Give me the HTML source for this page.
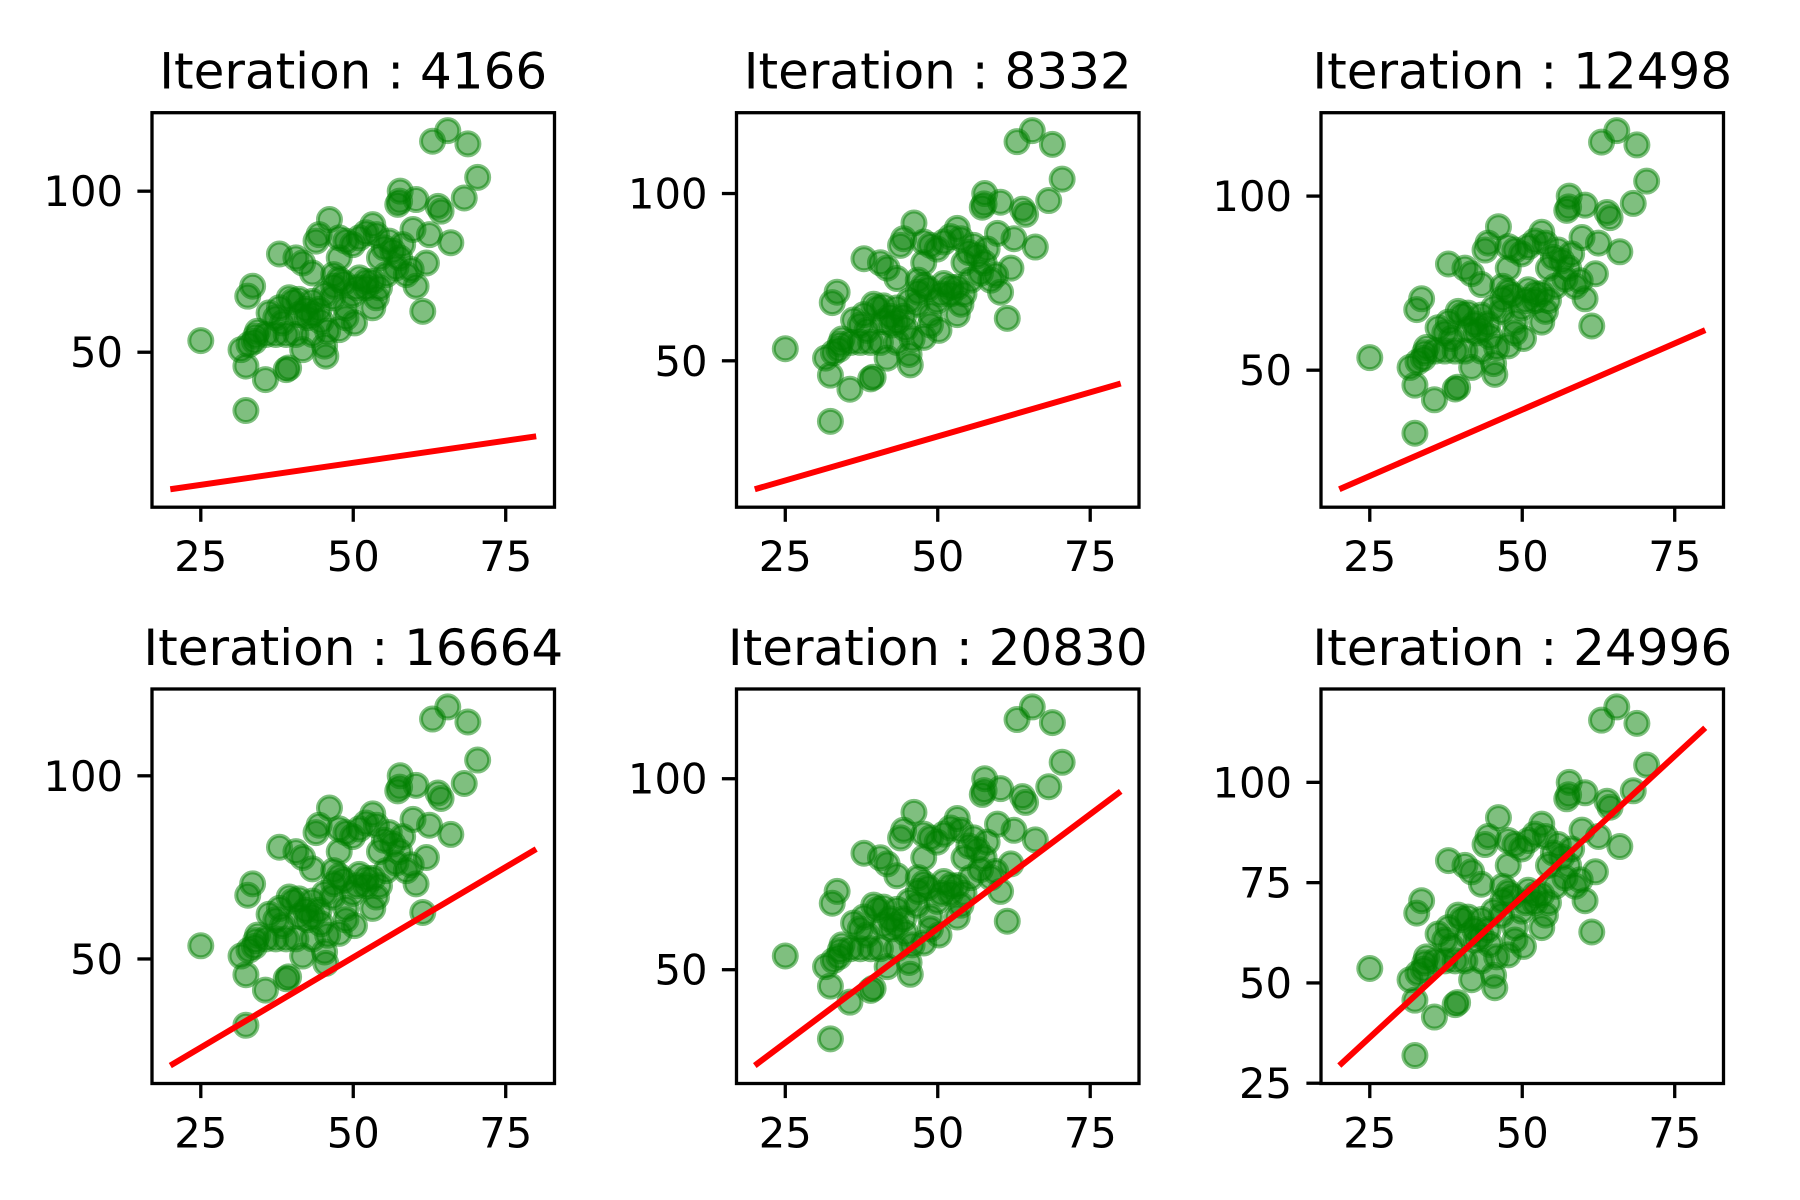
<!DOCTYPE html>
<html><head><meta charset="utf-8">
<style>
html,body{margin:0;padding:0;background:#fff;}
svg{display:block;}
text{font-family:"DejaVu Sans","Liberation Sans",sans-serif;fill:#000;}
</style></head>
<body>
<svg id="fig" width="1800" height="1200" viewBox="0 0 1800 1200" xmlns="http://www.w3.org/2000/svg"></svg>
<script>
// Shared scatter data
const scatterX = [25,63.0,65.5,68.8,70.4,68.2,32.4,35.6,39.4,39.0,61.4,66.0,60.3,62.0,62.5,64.4,63.9,60.3,57.6,57.7,57.3,59.8,59.5,58.7,37.9,33.5,32.7,31.6,32.4,33.8,34.3,36.2,37.3,38.4,40.1,41.1,40.6,41.7,43.3,44.4,45.5,45.3,45.8,47.7,50.2,48.8,53.2,53.8,50.6,48.4,46.8,43.3,41.7,40.6,44.4,43.9,46.1,48.8,49.9,52.1,53.2,53.8,55.1,56.5,57.6,57.0,55.4,53.2,52.1,51.0,47.7,46.6,43.3,42.2,44.7,43.3,39.0,37.3,35.7,34.0,32.9,37.9,39.5,41.1,42.5,48.8,49.9,52.1,54.3,55.9,58.1,51.0,47.7,46.8,45.3,54.3,47.7];
const scatterY = [53.6,115.5,118.8,114.7,104.3,97.9,31.9,41.5,45.1,44.6,62.7,84.0,70.5,77.7,86.5,93.8,95.3,97.4,96.9,100,95.9,88.1,75.7,74.1,80.5,70.5,67.4,50.8,45.7,53.4,56.5,62.2,60.7,59.1,65.8,66.4,55.5,50.8,61.7,63.3,48.8,51.9,56.5,57.0,59.1,60.7,63.8,66.9,70.0,71.5,74.1,74.6,77.7,79.3,86.5,84.5,91.2,84.5,83.4,87.1,89.6,86.5,82.4,81.4,79.3,76.2,74.1,72.0,70.0,73.1,72.6,66.9,65.8,63.3,59.6,55.5,55.5,55.5,55.5,55.0,52.4,63.8,66.9,61.7,60.7,63.8,67.9,72.0,79.3,84.5,83.4,85.5,79.3,70.5,67.9,70.0,85.5];
// Per-panel data
const iterations = [4166,8332,12498,16664,20830,24996];
const lineX = [20,80];
const lineStartY = [7.45,11.6,15.8,20.9,24.9,29.4];
const lineEndY = [23.9,43.2,61.5,80.0,96.7,113.6];
const xTicks = [25,50,75];
const yTicksByPanel = [[50,100],[50,100],[50,100],[50,100],[50,100],[25,50,75,100]];

const NS="http://www.w3.org/2000/svg";
const svg=document.getElementById('fig');
function mk(tag,attrs,parent){const e=document.createElementNS(NS,tag);for(const k in attrs)e.setAttribute(k,attrs[k]);(parent||svg).appendChild(e);return e;}

const colL=[152,736.5,1321], colW=402.5;
const rowT=[112.7,689], rowH=394.5;

iterations.forEach((it,p)=>{
  const L=colL[p%3], T=rowT[Math.floor(p/3)], R=L+colW, B=T+rowH;
  const g=mk('g',{});
  
  
  // domains
  const xs=scatterX.concat(lineX), ys=scatterY.concat([lineStartY[p],lineEndY[p]]);
  const xmin=Math.min(...xs),xmax=Math.max(...xs),ymin=Math.min(...ys),ymax=Math.max(...ys);
  const xr=xmax-xmin, yr=ymax-ymin;
  const x0=xmin-0.05*xr,x1=xmax+0.05*xr,y0=ymin-0.05*yr,y1=ymax+0.05*yr;
  const sx=v=>L+(v-x0)/(x1-x0)*colW;
  const sy=v=>B-(v-y0)/(y1-y0)*rowH;
  // points
  const pg=mk('g',{},g);
  
  
  scatterX.forEach((xv,i)=>{
    const c=mk('circle',{cx:sx(xv),cy:sy(scatterY[i]),r:11.5,fill:'#008000','fill-opacity':0.5,stroke:'#008000','stroke-opacity':0.5,'stroke-width':4},pg);
    
    
  });
  // regression line
  const ln=mk('line',{x1:sx(lineX[0]),y1:sy(lineStartY[p]),x2:sx(lineX[1]),y2:sy(lineEndY[p]),stroke:'#ff0000','stroke-width':6},g);
  
  
  // frame
  const fr=mk('rect',{x:L,y:T,width:colW,height:rowH,fill:'none',stroke:'#000','stroke-width':3.3},g);
  
  
  // x ticks
  xTicks.forEach(t=>{
    const x=sx(t);
    const tk=mk('line',{x1:x,y1:B,x2:x,y2:B+14.6,stroke:'#000','stroke-width':3.3},g);
    
    
    const tx=mk('text',{x:x,y:B+64,'text-anchor':'middle','font-size':41.7},g);
    tx.textContent=t;
    
    
  });
  yTicksByPanel[p].forEach(t=>{
    const y=sy(t);
    const tk=mk('line',{x1:L-14.6,y1:y,x2:L,y2:y,stroke:'#000','stroke-width':3.3},g);
    
    
    const tx=mk('text',{x:L-29,y:y+15,'text-anchor':'end','font-size':41.7},g);
    tx.textContent=t;
    
    
  });
  const ti=mk('text',{x:L+colW/2,y:T-24,'text-anchor':'middle','font-size':50},g);
  ti.textContent='Iteration : '+it;
  
  
});
</script>
</body></html>
